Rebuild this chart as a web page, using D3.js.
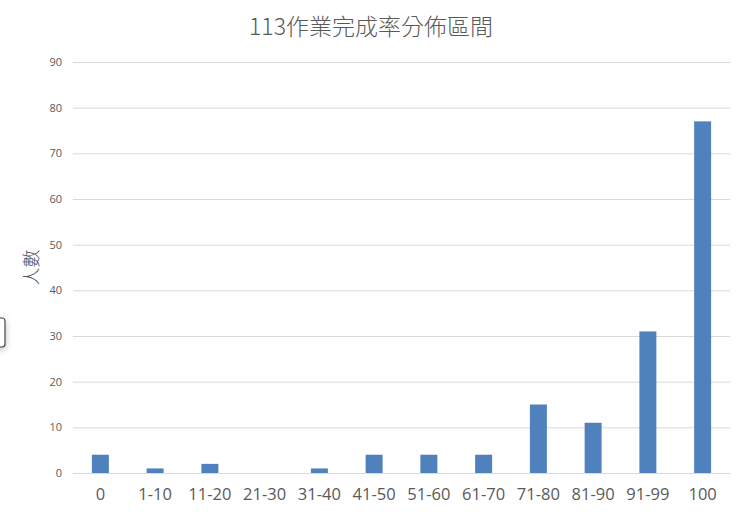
<!DOCTYPE html>
<html>
<head>
<meta charset="utf-8">
<script src="https://cdn.jsdelivr.net/npm/d3@7"></script>
<style>
  body { margin: 0; background: #fff; }
  svg { display: block; }
</style>
</head>
<body>
<svg id="chart" width="740" height="515"></svg>
<script>
// chart data
const categories = ["0", "1-10", "11-20", "21-30", "31-40", "41-50", "51-60", "61-70", "71-80", "81-90", "91-99", "100"];
const counts = [4, 1, 2, 0, 1, 4, 4, 4, 15, 11, 31, 77];
const yTicks = [0, 10, 20, 30, 40, 50, 60, 70, 80, 90];
const title = "113作業完成率分佈區間";
const yTitle = "人數";

const svg = d3.select("#chart");
const margin = { left: 73, right: 10, top: 62, bottom: 42 };
const width = 740, height = 515;

// x band scale, y linear scale
const x = d3.scaleBand()
    .domain(categories)
    .range([margin.left, width - margin.right])
    .paddingInner(0.69)
    .paddingOuter(0.345);

const y = d3.scaleLinear()
    .domain([0, 90])
    .range([height - margin.bottom, margin.top]);

// gridlines
const yAxis = d3.axisLeft(y)
    .tickValues(yTicks)
    .tickSize(-(width - margin.right - margin.left))
    .tickPadding(11);

const gy = svg.append("g")
    .attr("transform", `translate(${margin.left},0)`)
    .call(yAxis);
gy.select(".domain").remove();
gy.selectAll(".tick line").attr("stroke", "#d9d9d9").attr("stroke-width", 1);
gy.selectAll(".tick text")
    .attr("fill", "#595959")
    .style("font-family", "'Open Sans', 'Noto Sans', sans-serif")
    .style("font-size", "11px");

// bars
svg.selectAll("rect.bar")
    .data(counts)
    .enter()
    .append("rect")
    .attr("class", "bar")
    .attr("x", (d, i) => x(categories[i]))
    .attr("width", x.bandwidth())
    .attr("y", d => y(d))
    .attr("height", d => y(0) - y(d))
    .attr("fill", "#4f81bd");

// x axis labels
const xAxis = d3.axisBottom(x).tickSize(0).tickPadding(15);
const gx = svg.append("g")
    .attr("transform", `translate(0,${y(0)})`)
    .call(xAxis);
gx.select(".domain").remove();
gx.selectAll(".tick text")
    .attr("fill", "#595959")
    .style("font-family", "'Open Sans', 'Noto Sans', sans-serif")
    .style("font-size", "16.5px");

// title
svg.append("text")
    .attr("x", 371)
    .attr("y", 35)
    .attr("text-anchor", "middle")
    .attr("fill", "#595959")
    .style("font-family", "'Noto Sans CJK TC', sans-serif")
    .style("font-weight", 300)
    .style("font-size", "23px")
    .text(title);

// y axis title
svg.append("text")
    .attr("transform", `translate(38,${(y(0) + y(90)) / 2}) rotate(-90)`)
    .attr("text-anchor", "middle")
    .attr("fill", "#595959")
    .style("font-family", "'Noto Sans CJK TC', sans-serif")
    .style("font-weight", 300)
    .style("font-size", "18px")
    .text(yTitle);

// leftover frame at the left edge of the screenshot
const defs = svg.append("defs");
const f = defs.append("filter").attr("id", "sh").attr("x", "-50%").attr("y", "-50%").attr("width", "200%").attr("height", "200%");
f.append("feDropShadow").attr("dx", 0).attr("dy", 2).attr("stdDeviation", 3).attr("flood-color", "#000").attr("flood-opacity", 0.25);
svg.append("rect")
    .attr("x", -10).attr("y", 318)
    .attr("width", 15).attr("height", 29)
    .attr("rx", 3)
    .attr("fill", "#fff")
    .attr("stroke", "#444")
    .attr("stroke-width", 1.2)
    .attr("filter", "url(#sh)");
</script>
</body>
</html>
